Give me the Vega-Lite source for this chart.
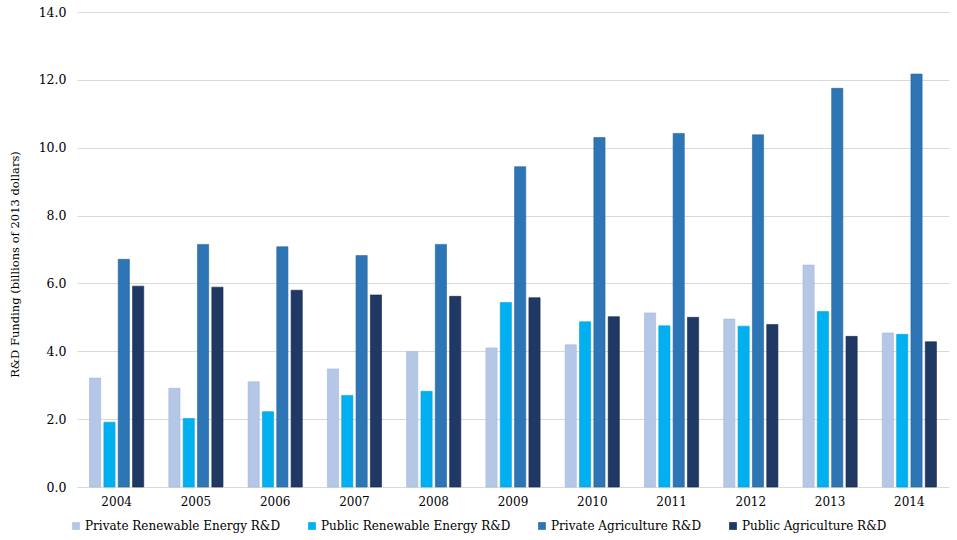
{
  "$schema": "https://vega.github.io/schema/vega-lite/v6.json",
  "width": 872,
  "height": 475,
  "autosize": {"type": "none"},
  "padding": {"left": 77, "top": 12, "right": 8, "bottom": 53},
  "background": "white",
  "config": {
    "view": {"stroke": null},
    "font": "DejaVu Serif"
  },
  "data": {
    "values": [
      {"year": "2004", "series": "Private Renewable Energy R&D", "value": 3.21},
      {"year": "2004", "series": "Public Renewable Energy R&D", "value": 1.91},
      {"year": "2004", "series": "Private Agriculture R&D", "value": 6.71},
      {"year": "2004", "series": "Public Agriculture R&D", "value": 5.92},
      {"year": "2005", "series": "Private Renewable Energy R&D", "value": 2.91},
      {"year": "2005", "series": "Public Renewable Energy R&D", "value": 2.02},
      {"year": "2005", "series": "Private Agriculture R&D", "value": 7.15},
      {"year": "2005", "series": "Public Agriculture R&D", "value": 5.89},
      {"year": "2006", "series": "Private Renewable Energy R&D", "value": 3.10},
      {"year": "2006", "series": "Public Renewable Energy R&D", "value": 2.22},
      {"year": "2006", "series": "Private Agriculture R&D", "value": 7.08},
      {"year": "2006", "series": "Public Agriculture R&D", "value": 5.80},
      {"year": "2007", "series": "Private Renewable Energy R&D", "value": 3.48},
      {"year": "2007", "series": "Public Renewable Energy R&D", "value": 2.70},
      {"year": "2007", "series": "Private Agriculture R&D", "value": 6.82},
      {"year": "2007", "series": "Public Agriculture R&D", "value": 5.66},
      {"year": "2008", "series": "Private Renewable Energy R&D", "value": 3.99},
      {"year": "2008", "series": "Public Renewable Energy R&D", "value": 2.82},
      {"year": "2008", "series": "Private Agriculture R&D", "value": 7.15},
      {"year": "2008", "series": "Public Agriculture R&D", "value": 5.62},
      {"year": "2009", "series": "Private Renewable Energy R&D", "value": 4.10},
      {"year": "2009", "series": "Public Renewable Energy R&D", "value": 5.44},
      {"year": "2009", "series": "Private Agriculture R&D", "value": 9.44},
      {"year": "2009", "series": "Public Agriculture R&D", "value": 5.58},
      {"year": "2010", "series": "Private Renewable Energy R&D", "value": 4.19},
      {"year": "2010", "series": "Public Renewable Energy R&D", "value": 4.87},
      {"year": "2010", "series": "Private Agriculture R&D", "value": 10.30},
      {"year": "2010", "series": "Public Agriculture R&D", "value": 5.02},
      {"year": "2011", "series": "Private Renewable Energy R&D", "value": 5.13},
      {"year": "2011", "series": "Public Renewable Energy R&D", "value": 4.75},
      {"year": "2011", "series": "Private Agriculture R&D", "value": 10.42},
      {"year": "2011", "series": "Public Agriculture R&D", "value": 5.00},
      {"year": "2012", "series": "Private Renewable Energy R&D", "value": 4.95},
      {"year": "2012", "series": "Public Renewable Energy R&D", "value": 4.74},
      {"year": "2012", "series": "Private Agriculture R&D", "value": 10.38},
      {"year": "2012", "series": "Public Agriculture R&D", "value": 4.79},
      {"year": "2013", "series": "Private Renewable Energy R&D", "value": 6.54},
      {"year": "2013", "series": "Public Renewable Energy R&D", "value": 5.17},
      {"year": "2013", "series": "Private Agriculture R&D", "value": 11.75},
      {"year": "2013", "series": "Public Agriculture R&D", "value": 4.44},
      {"year": "2014", "series": "Private Renewable Energy R&D", "value": 4.54},
      {"year": "2014", "series": "Public Renewable Energy R&D", "value": 4.50},
      {"year": "2014", "series": "Private Agriculture R&D", "value": 12.17},
      {"year": "2014", "series": "Public Agriculture R&D", "value": 4.28}
    ]
  },
  "mark": {"type": "bar", "strokeWidth": 0.6, "stroke": {"expr": "datum.series == 'Private Renewable Energy R&D' ? '#A3B8DC' : datum.series == 'Public Renewable Energy R&D' ? '#0AA0DA' : datum.series == 'Private Agriculture R&D' ? '#25649E' : '#15284A'"}},
  "encoding": {
    "x": {
      "field": "year",
      "type": "nominal",
      "scale": {"paddingInner": 0.28, "paddingOuter": 0.14},
      "axis": {
        "title": null,
        "labelAngle": 0,
        "labelFontSize": 12,
        "labelColor": "#000000",
        "labelPadding": 9,
        "ticks": false,
        "domainColor": "#D9D9D9",
        "domainWidth": 1.2
      }
    },
    "xOffset": {
      "field": "series",
      "type": "nominal",
      "sort": ["Private Renewable Energy R&D", "Public Renewable Energy R&D", "Private Agriculture R&D", "Public Agriculture R&D"],
      "scale": {"paddingInner": 0.22, "paddingOuter": 0.1}
    },
    "y": {
      "field": "value",
      "type": "quantitative",
      "scale": {"domain": [0, 14], "nice": false},
      "axis": {
        "title": "R&D Funding (billions of 2013 dollars)",
        "titleFontSize": 11.5,
        "titleFontWeight": "normal",
        "titleColor": "#000000",
        "titleX": -57,
        "titleY": 252,
        "values": [0, 2, 4, 6, 8, 10, 12, 14],
        "format": ".1f",
        "labelFontSize": 12.5,
        "labelColor": "#000000",
        "labelPadding": 11,
        "ticks": false,
        "domain": false,
        "grid": true,
        "gridColor": "#D9D9D9",
        "gridWidth": 1.2
      }
    },
    "color": {
      "field": "series",
      "type": "nominal",
      "sort": ["Private Renewable Energy R&D", "Public Renewable Energy R&D", "Private Agriculture R&D", "Public Agriculture R&D"],
      "scale": {
        "domain": ["Private Renewable Energy R&D", "Public Renewable Energy R&D", "Private Agriculture R&D", "Public Agriculture R&D"],
        "range": ["#B4C7E7", "#00B0F0", "#2E75B6", "#1F3864"]
      },
      "legend": {
        "title": null,
        "orient": "none",
        "direction": "horizontal",
        "legendX": -7,
        "legendY": 508,
        "symbolType": "square",
        "symbolSize": 60,
        "symbolStrokeWidth": 0,
        "labelFontSize": 12,
        "labelColor": "#000000",
        "labelOffset": 3,
        "columnPadding": 25,
        "labelLimit": 400
      }
    }
  }
}
